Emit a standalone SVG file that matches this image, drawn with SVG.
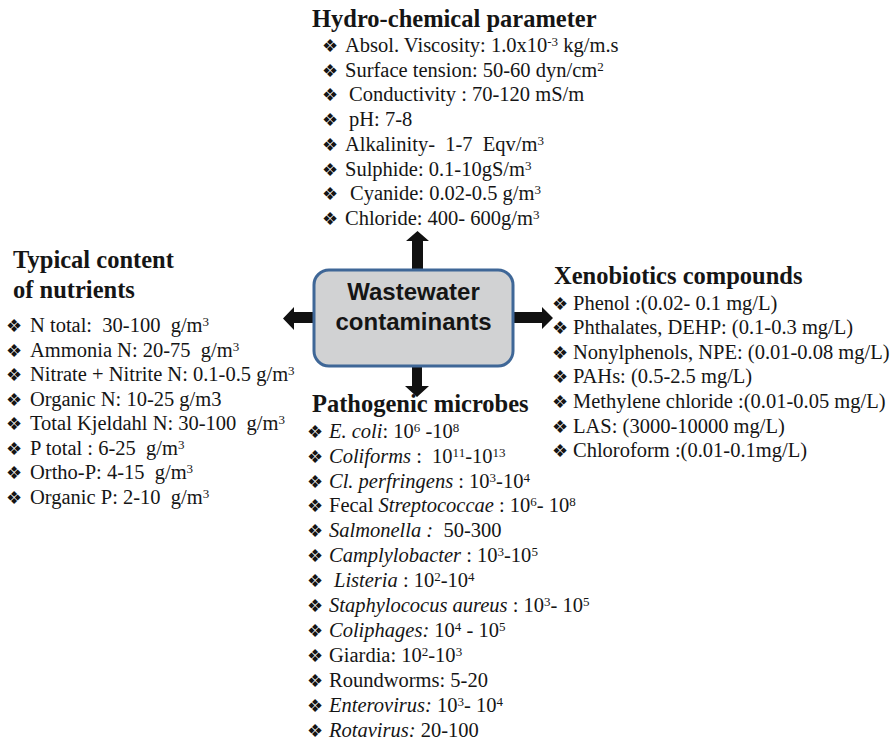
<svg xmlns="http://www.w3.org/2000/svg" width="894" height="740" viewBox="0 0 894 740">
<style>
text { font-family: "Liberation Serif", "Times New Roman", serif; font-size: 20.5px; fill: #151515; white-space: pre; }
.title { font-weight: bold; font-size: 24.5px; }
.b { font-family: "DejaVu Sans", sans-serif; font-size: 18px; }
.s { font-size: 13px; }
.i { font-style: italic; }
.box { fill: #d1d2d3; stroke: #3f6797; stroke-width: 3; }
.boxt { font-family: "Liberation Sans", Arial, sans-serif; font-weight: bold; font-size: 24px; text-anchor: middle; fill: #151515; }
.arr { fill: #111111; }
</style>
<g id="connectors">
<polygon class="arr" points="412,272 412,241 406,241 417.5,231 429,241 423,241 423,272"/>
<polygon class="arr" points="412,364 412,386 405,386 417,397 429,386 422,386 422,364"/>
<polygon class="arr" points="316,312 294,312 294,307 283,318.5 294,330 294,323 316,323"/>
<polygon class="arr" points="511,312 542,312 542,307 553,318 542,329 542,323 511,323"/>
</g>
<g id="center">
<rect class="box" x="314" y="270" width="199" height="96" rx="15"/>
<text class="boxt" x="413.5" y="300">Wastewater</text>
<text class="boxt" x="413.5" y="330">contaminants</text>
</g>
<g id="hydro">
<text class="title" x="312" y="27">Hydro-chemical parameter</text>
<text class="b" x="322" y="52">❖</text><text x="345" y="52">Absol. Viscosity: 1.0x10<tspan class="s" dy="-6">-3</tspan><tspan dy="6"> kg/m.s</tspan></text>
<text class="b" x="322" y="77">❖</text><text x="345" y="77">Surface tension: 50-60 dyn/cm<tspan class="s" dy="-6">2</tspan></text>
<text class="b" x="322" y="101">❖</text><text x="349" y="101">Conductivity : 70-120 mS/m</text>
<text class="b" x="322" y="126">❖</text><text x="349" y="126">pH: 7-8</text>
<text class="b" x="322" y="151">❖</text><text x="345" y="151">Alkalinity-&#160; 1-7&#160; Eqv/m<tspan class="s" dy="-6">3</tspan></text>
<text class="b" x="322" y="176">❖</text><text x="345" y="176">Sulphide: 0.1-10gS/m<tspan class="s" dy="-6">3</tspan></text>
<text class="b" x="322" y="200">❖</text><text x="350" y="200">Cyanide: 0.02-0.5 g/m<tspan class="s" dy="-6">3</tspan></text>
<text class="b" x="322" y="225">❖</text><text x="345" y="225">Chloride: 400- 600g/m<tspan class="s" dy="-6">3</tspan></text>
</g>
<g id="nutrients">
<text class="title" x="13" y="268">Typical content</text>
<text class="title" x="13" y="298">of nutrients</text>
<text class="b" x="6" y="332">❖</text><text x="30" y="332">N total:&#160; 30-100&#160; g/m<tspan class="s" dy="-6">3</tspan></text>
<text class="b" x="6" y="357">❖</text><text x="30" y="357">Ammonia N: 20-75&#160; g/m<tspan class="s" dy="-6">3</tspan></text>
<text class="b" x="6" y="381">❖</text><text x="30" y="381">Nitrate + Nitrite N: 0.1-0.5 g/m<tspan class="s" dy="-6">3</tspan></text>
<text class="b" x="6" y="406">❖</text><text x="30" y="406">Organic N: 10-25 g/m3</text>
<text class="b" x="6" y="430">❖</text><text x="30" y="430">Total Kjeldahl N: 30-100&#160; g/m<tspan class="s" dy="-6">3</tspan></text>
<text class="b" x="6" y="455">❖</text><text x="30" y="455">P total : 6-25&#160; g/m<tspan class="s" dy="-6">3</tspan></text>
<text class="b" x="6" y="479">❖</text><text x="30" y="479">Ortho-P: 4-15&#160; g/m<tspan class="s" dy="-6">3</tspan></text>
<text class="b" x="6" y="504">❖</text><text x="30" y="504">Organic P: 2-10&#160; g/m<tspan class="s" dy="-6">3</tspan></text>
</g>
<g id="xenobiotics">
<text class="title" x="554" y="284">Xenobiotics compounds</text>
<text class="b" x="552" y="310">❖</text><text x="573" y="310">Phenol :(0.02- 0.1 mg/L)</text>
<text class="b" x="552" y="334">❖</text><text x="573" y="334">Phthalates, DEHP: (0.1-0.3 mg/L)</text>
<text class="b" x="552" y="359">❖</text><text x="573" y="359">Nonylphenols, NPE: (0.01-0.08 mg/L)</text>
<text class="b" x="552" y="383">❖</text><text x="573" y="383">PAHs: (0.5-2.5 mg/L)</text>
<text class="b" x="552" y="408">❖</text><text x="573" y="408">Methylene chloride :(0.01-0.05 mg/L)</text>
<text class="b" x="552" y="433">❖</text><text x="573" y="433">LAS: (3000-10000 mg/L)</text>
<text class="b" x="552" y="457">❖</text><text x="573" y="457">Chloroform :(0.01-0.1mg/L)</text>
</g>
<g id="pathogens">
<text class="title" x="312" y="412">Pathogenic microbes</text>
<text class="b" x="307" y="438">❖</text><text x="329" y="438"><tspan class="i">E. coli</tspan>: 10<tspan class="s" dy="-6">6</tspan><tspan dy="6"> -10</tspan><tspan class="s" dy="-6">8</tspan></text>
<text class="b" x="307" y="463">❖</text><text x="329" y="463"><tspan class="i">Coliforms</tspan> :&#160; 10<tspan class="s" dy="-6">11</tspan><tspan dy="6">-10</tspan><tspan class="s" dy="-6">13</tspan></text>
<text class="b" x="307" y="488">❖</text><text x="329" y="488"><tspan class="i">Cl. perfringens</tspan> : 10<tspan class="s" dy="-6">3</tspan><tspan dy="6">-10</tspan><tspan class="s" dy="-6">4</tspan></text>
<text class="b" x="307" y="512">❖</text><text x="329" y="512">Fecal <tspan class="i">Streptococcae</tspan> : 10<tspan class="s" dy="-6">6</tspan><tspan dy="6">- 10</tspan><tspan class="s" dy="-6">8</tspan></text>
<text class="b" x="307" y="537">❖</text><text x="329" y="537"><tspan class="i">Salmonella :</tspan>&#160; 50-300</text>
<text class="b" x="307" y="562">❖</text><text x="329" y="562"><tspan class="i">Camplylobacter</tspan> : 10<tspan class="s" dy="-6">3</tspan><tspan dy="6">-10</tspan><tspan class="s" dy="-6">5</tspan></text>
<text class="b" x="307" y="587">❖</text><text x="334" y="587"><tspan class="i">Listeria</tspan> : 10<tspan class="s" dy="-6">2</tspan><tspan dy="6">-10</tspan><tspan class="s" dy="-6">4</tspan></text>
<text class="b" x="307" y="612">❖</text><text x="329" y="612"><tspan class="i">Staphylococus aureus</tspan> : 10<tspan class="s" dy="-6">3</tspan><tspan dy="6">- 10</tspan><tspan class="s" dy="-6">5</tspan></text>
<text class="b" x="307" y="637">❖</text><text x="329" y="637"><tspan class="i">Coliphages:</tspan> 10<tspan class="s" dy="-6">4</tspan><tspan dy="6"> - 10</tspan><tspan class="s" dy="-6">5</tspan></text>
<text class="b" x="307" y="662">❖</text><text x="329" y="662">Giardia: 10<tspan class="s" dy="-6">2</tspan><tspan dy="6">-10</tspan><tspan class="s" dy="-6">3</tspan></text>
<text class="b" x="307" y="687">❖</text><text x="329" y="687">Roundworms: 5-20</text>
<text class="b" x="307" y="712">❖</text><text x="329" y="712"><tspan class="i">Enterovirus:</tspan> 10<tspan class="s" dy="-6">3</tspan><tspan dy="6">- 10</tspan><tspan class="s" dy="-6">4</tspan></text>
<text class="b" x="307" y="737">❖</text><text x="329" y="737"><tspan class="i">Rotavirus:</tspan> 20-100</text>
</g>
</svg>
